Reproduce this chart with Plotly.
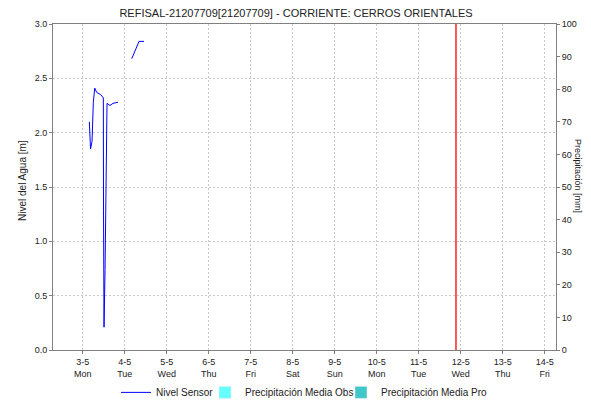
import plotly.graph_objects as go

# Serie del sensor de nivel (None = hueco sin datos)
nivel_fechas = [
    "2024-05-03 03:46", "2024-05-03 04:27", "2024-05-03 05:19", "2024-05-03 05:29",
    "2024-05-03 06:03", "2024-05-03 06:51", "2024-05-03 08:00", "2024-05-03 10:17",
    "2024-05-03 11:46", "2024-05-03 11:53", "2024-05-03 12:10", "2024-05-03 12:45",
    "2024-05-03 13:19", "2024-05-03 13:53", "2024-05-03 15:36", "2024-05-03 17:18",
    "2024-05-03 20:10", "2024-05-04 00:00",
    "2024-05-04 04:00", "2024-05-04 08:10", "2024-05-04 11:01",
]
nivel_valores = [
    2.10, 1.85, 1.92, 2.03,
    2.28, 2.41, 2.37, 2.35,
    2.32, 1.28, 0.21, 0.74,
    1.75, 2.27, 2.25, 2.27,
    2.28, None,
    2.68, 2.84, 2.84,
]

# Ejes
dias_ticks = ["2024-05-%02d" % d for d in range(3, 15)]
dias_labels = ["3-5<br>Mon", "4-5<br>Tue", "5-5<br>Wed", "6-5<br>Thu", "7-5<br>Fri", "8-5<br>Sat",
               "9-5<br>Sun", "10-5<br>Mon", "11-5<br>Tue", "12-5<br>Wed", "13-5<br>Thu", "14-5<br>Fri"]
rango_x = ["2024-05-02 07:00", "2024-05-14 06:30"]
hora_actual = "2024-05-11 21:20"

titulo = "REFISAL-21207709[21207709] - CORRIENTE: CERROS ORIENTALES"
titulo_y = "Nivel del Agua [m]"
titulo_y2 = "Precipitación [mm]"
fuente = "Liberation Sans, Arial, sans-serif"

fig = go.Figure()

fig.add_trace(go.Scatter(
    x=nivel_fechas, y=nivel_valores, mode="lines", name="Nivel Sensor",
    line=dict(color="#0000ff", width=1), connectgaps=False, legendwidth=44,
))
# barras de precipitación vacías (solo leyenda)
fig.add_trace(go.Bar(x=[dias_ticks[0]], y=[0], name="Precipitación Media Obs",
                     marker=dict(color="#66ffff"), yaxis="y2", legendwidth=91))
fig.add_trace(go.Bar(x=[dias_ticks[0]], y=[0], name="Precipitación Media Pro",
                     marker=dict(color="#40c8c8"), yaxis="y2"))

grid = dict(showgrid=True, gridcolor="#c8c8c8", griddash="2px,2px", gridwidth=1)

# la página tiene 8px de margen en el body -> figura de 583x393
fig.update_layout(
    width=583, height=393,
    margin=dict(l=45, r=35, t=16, b=51, autoexpand=False),
    paper_bgcolor="white", plot_bgcolor="white",
    font=dict(family=fuente, size=9, color="#222222"),
    title=dict(text=titulo, x=0.494, xanchor="center", y=0.987, yanchor="middle",
               font=dict(size=11, color="#222222")),
    xaxis=dict(range=rango_x, tickvals=dias_ticks, ticktext=dias_labels,
               showline=True, linecolor="#808080", mirror=True,
               ticks="outside", ticklen=3, tickcolor="#808080",
               tickfont=dict(size=9), automargin=False, **grid),
    yaxis=dict(range=[0, 3], dtick=0.5, tickformat=".1f",
               showline=True, linecolor="#808080",
               ticks="outside", ticklen=3, tickcolor="#808080",
               zeroline=False, automargin=False, **grid),
    yaxis2=dict(range=[0, 100], dtick=10, overlaying="y", side="right",
                showline=True, linecolor="#808080", showgrid=False,
                ticks="outside", ticklen=3, tickcolor="#808080", zeroline=False,
                automargin=False),
    legend=dict(orientation="h", x=0.5, xanchor="center", y=-0.13, yanchor="middle",
                font=dict(size=10), itemwidth=30, tracegroupgap=0),
    showlegend=True,
    shapes=[
        dict(type="line", xref="x", yref="paper", x0=hora_actual, x1=hora_actual, y0=0, y1=1,
             line=dict(color="#ff2020", width=1.5)),
    ],
    annotations=[
        dict(text=titulo_y, xref="paper", yref="paper", x=-0.062, y=0.521,
             xanchor="center", yanchor="middle", textangle=-90, showarrow=False,
             font=dict(size=10, color="#222222")),
        dict(text=titulo_y2, xref="paper", yref="paper", x=1.0437, y=0.534,
             xanchor="center", yanchor="middle", textangle=90, showarrow=False,
             font=dict(size=9, color="#222222")),
    ],
)

fig.write_html("out.html")
